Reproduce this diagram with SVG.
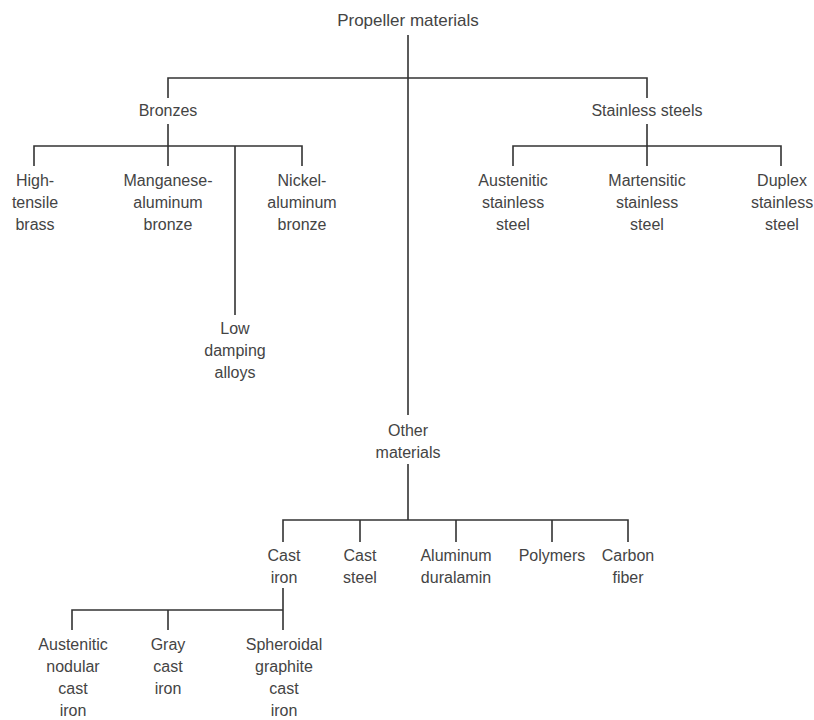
<svg xmlns="http://www.w3.org/2000/svg" width="814" height="720" viewBox="0 0 814 720">
<style>
text{font-family:"Liberation Sans",Arial,sans-serif;font-size:16px;fill:#444;text-anchor:middle}
.t{font-size:17px}
#connectors path{fill:none;stroke:#333;stroke-width:1.6}
</style>
<rect width="814" height="720" fill="#fff"/>
<g id="connectors">
<path d="M408 35V415M408 464V520"/>
<path d="M168 98V78H647V98"/>
<path d="M168 124V146M34 166V146H302V166M168 146V166M235 146V315"/>
<path d="M647 124V146M513 166V146H781V166M647 146V166"/>
<path d="M283 542V520H628V542M360 520V542M456 520V542M552 520V542"/>
<path d="M283 588V630M72 630V610H283M168 610V630"/>
</g>
<g id="root"><text class="t" x="408" y="26">Propeller materials</text></g>
<g id="bronzes"><text x="168" y="116">Bronzes</text></g>
<g id="stainless"><text x="647" y="116">Stainless steels</text></g>
<g id="hts"><text x="35" y="186">High-</text><text x="35" y="208">tensile</text><text x="35" y="230">brass</text></g>
<g id="mab"><text x="168" y="186">Manganese-</text><text x="168" y="208">aluminum</text><text x="168" y="230">bronze</text></g>
<g id="nab"><text x="302" y="186">Nickel-</text><text x="302" y="208">aluminum</text><text x="302" y="230">bronze</text></g>
<g id="lda"><text x="235" y="334">Low</text><text x="235" y="356">damping</text><text x="235" y="378">alloys</text></g>
<g id="auss"><text x="513" y="186">Austenitic</text><text x="513" y="208">stainless</text><text x="513" y="230">steel</text></g>
<g id="mars"><text x="647" y="186">Martensitic</text><text x="647" y="208">stainless</text><text x="647" y="230">steel</text></g>
<g id="dups"><text x="782" y="186">Duplex</text><text x="782" y="208">stainless</text><text x="782" y="230">steel</text></g>
<g id="other"><text x="408" y="436">Other</text><text x="408" y="458">materials</text></g>
<g id="castiron"><text x="284" y="561">Cast</text><text x="284" y="583">iron</text></g>
<g id="caststeel"><text x="360" y="561">Cast</text><text x="360" y="583">steel</text></g>
<g id="alu"><text x="456" y="561">Aluminum</text><text x="456" y="583">duralamin</text></g>
<g id="poly"><text x="552" y="561">Polymers</text></g>
<g id="carbon"><text x="628" y="561">Carbon</text><text x="628" y="583">fiber</text></g>
<g id="anci"><text x="73" y="650">Austenitic</text><text x="73" y="672">nodular</text><text x="73" y="694">cast</text><text x="73" y="716">iron</text></g>
<g id="gci"><text x="168" y="650">Gray</text><text x="168" y="672">cast</text><text x="168" y="694">iron</text></g>
<g id="sgci"><text x="284" y="650">Spheroidal</text><text x="284" y="672">graphite</text><text x="284" y="694">cast</text><text x="284" y="716">iron</text></g>
</svg>
